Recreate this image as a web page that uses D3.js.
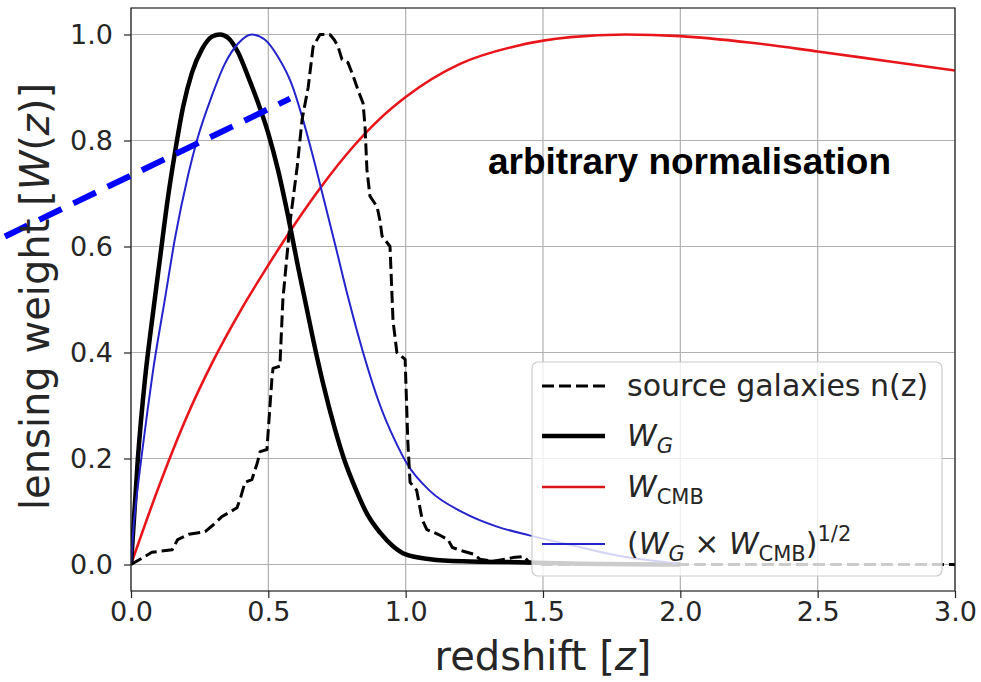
<!DOCTYPE html>
<html>
<head>
<meta charset="utf-8">
<script src="https://cdn.jsdelivr.net/npm/d3@7"></script>
<style>
  html, body { margin: 0; padding: 0; background: #fff; }
  svg { display: block; }
  text { font-family: "DejaVu Sans", sans-serif; }
</style>
</head>
<body>
<svg id="chart" width="981" height="682"></svg>
<script>
// Redshift grid and lensing kernels (arbitrary normalisation, peak = 1)
const nzZ = [0, 0.076, 0.15, 0.17, 0.21, 0.27, 0.30, 0.33, 0.386, 0.40, 0.415, 0.44, 0.46, 0.47, 0.495, 0.50, 0.513, 0.517, 0.542, 0.553, 0.58, 0.605, 0.623, 0.645, 0.663, 0.688, 0.724, 0.74, 0.754, 0.768, 0.79, 0.81, 0.826, 0.845, 0.852, 0.859, 0.87, 0.896, 0.906, 0.914, 0.943, 0.954, 0.968, 0.998, 1.008, 1.016, 1.04, 1.06, 1.077, 1.118, 1.154, 1.17, 1.21, 1.25, 1.27, 1.32, 1.39, 1.43, 1.45, 1.5, 2.0, 2.5, 3.0];
const nzW = [0, 0.023, 0.028, 0.047, 0.057, 0.062, 0.075, 0.09, 0.107, 0.128, 0.155, 0.16, 0.192, 0.213, 0.217, 0.255, 0.35, 0.37, 0.374, 0.5, 0.65, 0.75, 0.84, 0.90, 0.977, 1.0, 1.0, 0.99, 0.977, 0.953, 0.947, 0.92, 0.896, 0.87, 0.826, 0.745, 0.695, 0.675, 0.65, 0.62, 0.60, 0.46, 0.40, 0.387, 0.23, 0.155, 0.14, 0.085, 0.066, 0.057, 0.047, 0.032, 0.025, 0.019, 0.01, 0.006, 0.013, 0.015, 0.004, 0, 0, 0, 0];

const wgZ = [0, 0.025, 0.051, 0.077, 0.105, 0.135, 0.16, 0.19, 0.222, 0.258, 0.295, 0.324, 0.353, 0.39, 0.426, 0.462, 0.499, 0.535, 0.572, 0.608, 0.633, 0.665, 0.70, 0.74, 0.775, 0.82, 0.86, 0.907, 0.955, 1.0, 1.09, 1.21, 1.44, 1.6, 2.0];
const wgW = [0, 0.2, 0.35, 0.462, 0.575, 0.694, 0.777, 0.864, 0.928, 0.972, 0.996, 1.0, 0.994, 0.966, 0.921, 0.872, 0.815, 0.745, 0.657, 0.562, 0.5, 0.42, 0.34, 0.26, 0.2, 0.14, 0.095, 0.06, 0.034, 0.019, 0.01, 0.006, 0.004, 0.002, 0];

const wcmbZ = [0, 0.1, 0.2, 0.3, 0.4, 0.5, 0.6, 0.7, 0.8, 0.9, 1.0, 1.2, 1.4, 1.6, 1.8, 2.0, 2.25, 2.5, 2.75, 3.0];
const wcmbW = [0, 0.145, 0.275, 0.385, 0.48, 0.565, 0.645, 0.718, 0.783, 0.838, 0.882, 0.945, 0.978, 0.995, 1.0, 0.997, 0.985, 0.968, 0.95, 0.932];

const crossZ = [0, 0.01, 0.02, 0.04, 0.06, 0.08, 0.1, 0.12, 0.16, 0.208, 0.24, 0.295, 0.342, 0.39, 0.44, 0.488, 0.535, 0.586, 0.623, 0.66, 0.70, 0.745, 0.79, 0.845, 0.907, 0.96, 1.005, 1.09, 1.21, 1.33, 1.45, 1.6, 1.78, 1.99];
const crossW = [0, 0.075, 0.125, 0.21, 0.29, 0.365, 0.43, 0.49, 0.615, 0.735, 0.8, 0.885, 0.945, 0.983, 1.0, 0.99, 0.958, 0.905, 0.845, 0.775, 0.693, 0.6, 0.505, 0.4, 0.3, 0.235, 0.19, 0.138, 0.098, 0.072, 0.055, 0.037, 0.016, 0.002];

// Highlight stroke across the upper left of the panel
const markZ = [-0.459, 0.579];
const markW = [0.619, 0.879];

const xTicks = [0, 0.5, 1.0, 1.5, 2.0, 2.5, 3.0];
const yTicks = [0, 0.2, 0.4, 0.6, 0.8, 1.0];

const svg = d3.select("#chart");
const pL = 131, pR = 955, pT = 8, pB = 591;

const x = d3.scaleLinear().domain([0, 3]).range([pL, pR]);
const y = d3.scaleLinear().domain([-0.05, 1.05]).range([pB, pT]);

svg.append("defs").append("clipPath").attr("id", "plotClip")
  .append("rect").attr("x", pL).attr("y", pT)
  .attr("width", pR - pL).attr("height", pB - pT);

// grid
const grid = svg.append("g");
grid.selectAll("line.gx").data(xTicks).join("line").attr("class", "gx")
  .attr("x1", d => x(d)).attr("x2", d => x(d))
  .attr("y1", pT).attr("y2", pB)
  .attr("stroke", "#b0b0b0").attr("stroke-width", 1.2);
grid.selectAll("line.gy").data(yTicks).join("line").attr("class", "gy")
  .attr("y1", d => y(d)).attr("y2", d => y(d))
  .attr("x1", pL).attr("x2", pR)
  .attr("stroke", "#b0b0b0").attr("stroke-width", 1.2);

// axes
const xAxis = svg.append("g").attr("transform", `translate(0,${pB})`)
  .call(d3.axisBottom(x).tickValues(xTicks).tickFormat(d3.format(".1f")).tickSizeOuter(0).tickSize(7).tickPadding(4));
const yAxis = svg.append("g").attr("transform", `translate(${pL},0)`)
  .call(d3.axisLeft(y).tickValues(yTicks).tickFormat(d3.format(".1f")).tickSizeOuter(0).tickSize(7).tickPadding(11));
[xAxis, yAxis].forEach(g => {
  g.select(".domain").remove();
  g.selectAll(".tick line").attr("stroke", "#222").attr("stroke-width", 1.2);
  g.selectAll(".tick text").attr("fill", "#262626")
    .style("font-family", "DejaVu Sans, sans-serif").style("font-size", "27px");
});

// curves
const plot = svg.append("g").attr("clip-path", "url(#plotClip)");
const lineSmooth = d3.line().x(d => x(d[0])).y(d => y(d[1])).curve(d3.curveMonotoneX);
const lineRaw = d3.line().x(d => x(d[0])).y(d => y(d[1]));
const zip = (a, b) => a.map((v, i) => [v, b[i]]);

plot.append("path").datum(zip(wcmbZ, wcmbW)).attr("d", lineSmooth)
  .attr("fill", "none").attr("stroke", "#e8161b").attr("stroke-width", 2.6);
plot.append("path").datum(zip(wgZ, wgW)).attr("d", lineSmooth)
  .attr("fill", "none").attr("stroke", "#000").attr("stroke-width", 4.5);
plot.append("path").datum(zip(crossZ, crossW)).attr("d", lineSmooth)
  .attr("fill", "none").attr("stroke", "#2424cc").attr("stroke-width", 2);
plot.append("path").datum(zip(nzZ, nzW)).attr("d", lineRaw)
  .attr("fill", "none").attr("stroke", "#000").attr("stroke-width", 3)
  .attr("stroke-dasharray", "12,5").attr("stroke-linejoin", "round");

// frame
svg.append("rect").attr("x", pL).attr("y", pT)
  .attr("width", pR - pL).attr("height", pB - pT)
  .attr("fill", "none").attr("stroke", "#222").attr("stroke-width", 1.2);

// legend
const lg = svg.append("g");
lg.append("rect").attr("x", 532).attr("y", 362).attr("width", 410).attr("height", 214)
  .attr("rx", 6).attr("fill", "#fff").attr("fill-opacity", 0.8)
  .attr("stroke", "#cccccc").attr("stroke-width", 1.2);

const legendItems = [
  { color: "#000", width: 3, dash: "12,5", rowY: 386,
    parts: [{ t: "source galaxies n(z)" }] },
  { color: "#000", width: 4.5, dash: null, rowY: 436,
    parts: [{ t: "W", it: true }, { t: "G", it: true, sub: true }] },
  { color: "#d9161b", width: 2.6, dash: null, rowY: 487,
    parts: [{ t: "W", it: true }, { t: "CMB", sub: true }] },
  { color: "#2424cc", width: 2, dash: null, rowY: 544,
    parts: [{ t: "(" }, { t: "W", it: true }, { t: "G", it: true, sub: true },
            { t: " × " }, { t: "W", it: true }, { t: "CMB", sub: true },
            { t: ")" }, { t: "1/2", sup: true }] }
];

legendItems.forEach(item => {
  lg.append("line").attr("x1", 542).attr("x2", 605)
    .attr("y1", item.rowY).attr("y2", item.rowY)
    .attr("stroke", item.color).attr("stroke-width", item.width)
    .attr("stroke-dasharray", item.dash);
  const t = lg.append("text").attr("x", 627).attr("y", item.rowY + 10)
    .attr("fill", "#262626").style("font-size", "30px");
  let shift = 0;
  item.parts.forEach(p => {
    let target = 0, size = 30;
    if (p.sub) { target = 7; size = 21; }
    if (p.sup) { target = -13; size = 21; }
    t.append("tspan").text(p.t)
      .attr("dy", target - shift)
      .style("font-size", size + "px")
      .style("font-style", p.it ? "oblique" : "normal")
      .style("white-space", "pre");
    shift = target;
  });
});

// highlight stroke (drawn across the axis edge)
svg.append("path").datum(zip(markZ, markW)).attr("d", lineRaw)
  .attr("fill", "none").attr("stroke", "#0000ff").attr("stroke-width", 6)
  .attr("stroke-dasharray", "25,13");

// annotation text
svg.append("text").attr("x", 488).attr("y", 174)
  .style("font-family", "Liberation Sans, Arial, sans-serif")
  .style("font-weight", "bold").style("font-size", "37px").attr("fill", "#000")
  .text("arbitrary normalisation");

// axis labels
const xl = svg.append("text").attr("x", (pL + pR) / 2).attr("y", 670)
  .attr("text-anchor", "middle").attr("fill", "#262626").style("font-size", "40px");
xl.append("tspan").text("redshift [");
xl.append("tspan").text("z").style("font-style", "oblique");
xl.append("tspan").text("]");

const yl = svg.append("text")
  .attr("transform", `translate(49,${(pT + pB) / 2 - 3}) rotate(-90)`)
  .attr("text-anchor", "middle").attr("fill", "#262626").style("font-size", "40px");
yl.append("tspan").text("lensing weight [");
yl.append("tspan").text("W").style("font-style", "oblique");
yl.append("tspan").text("(");
yl.append("tspan").text("z").style("font-style", "oblique");
yl.append("tspan").text(")]");
</script>
</body>
</html>
